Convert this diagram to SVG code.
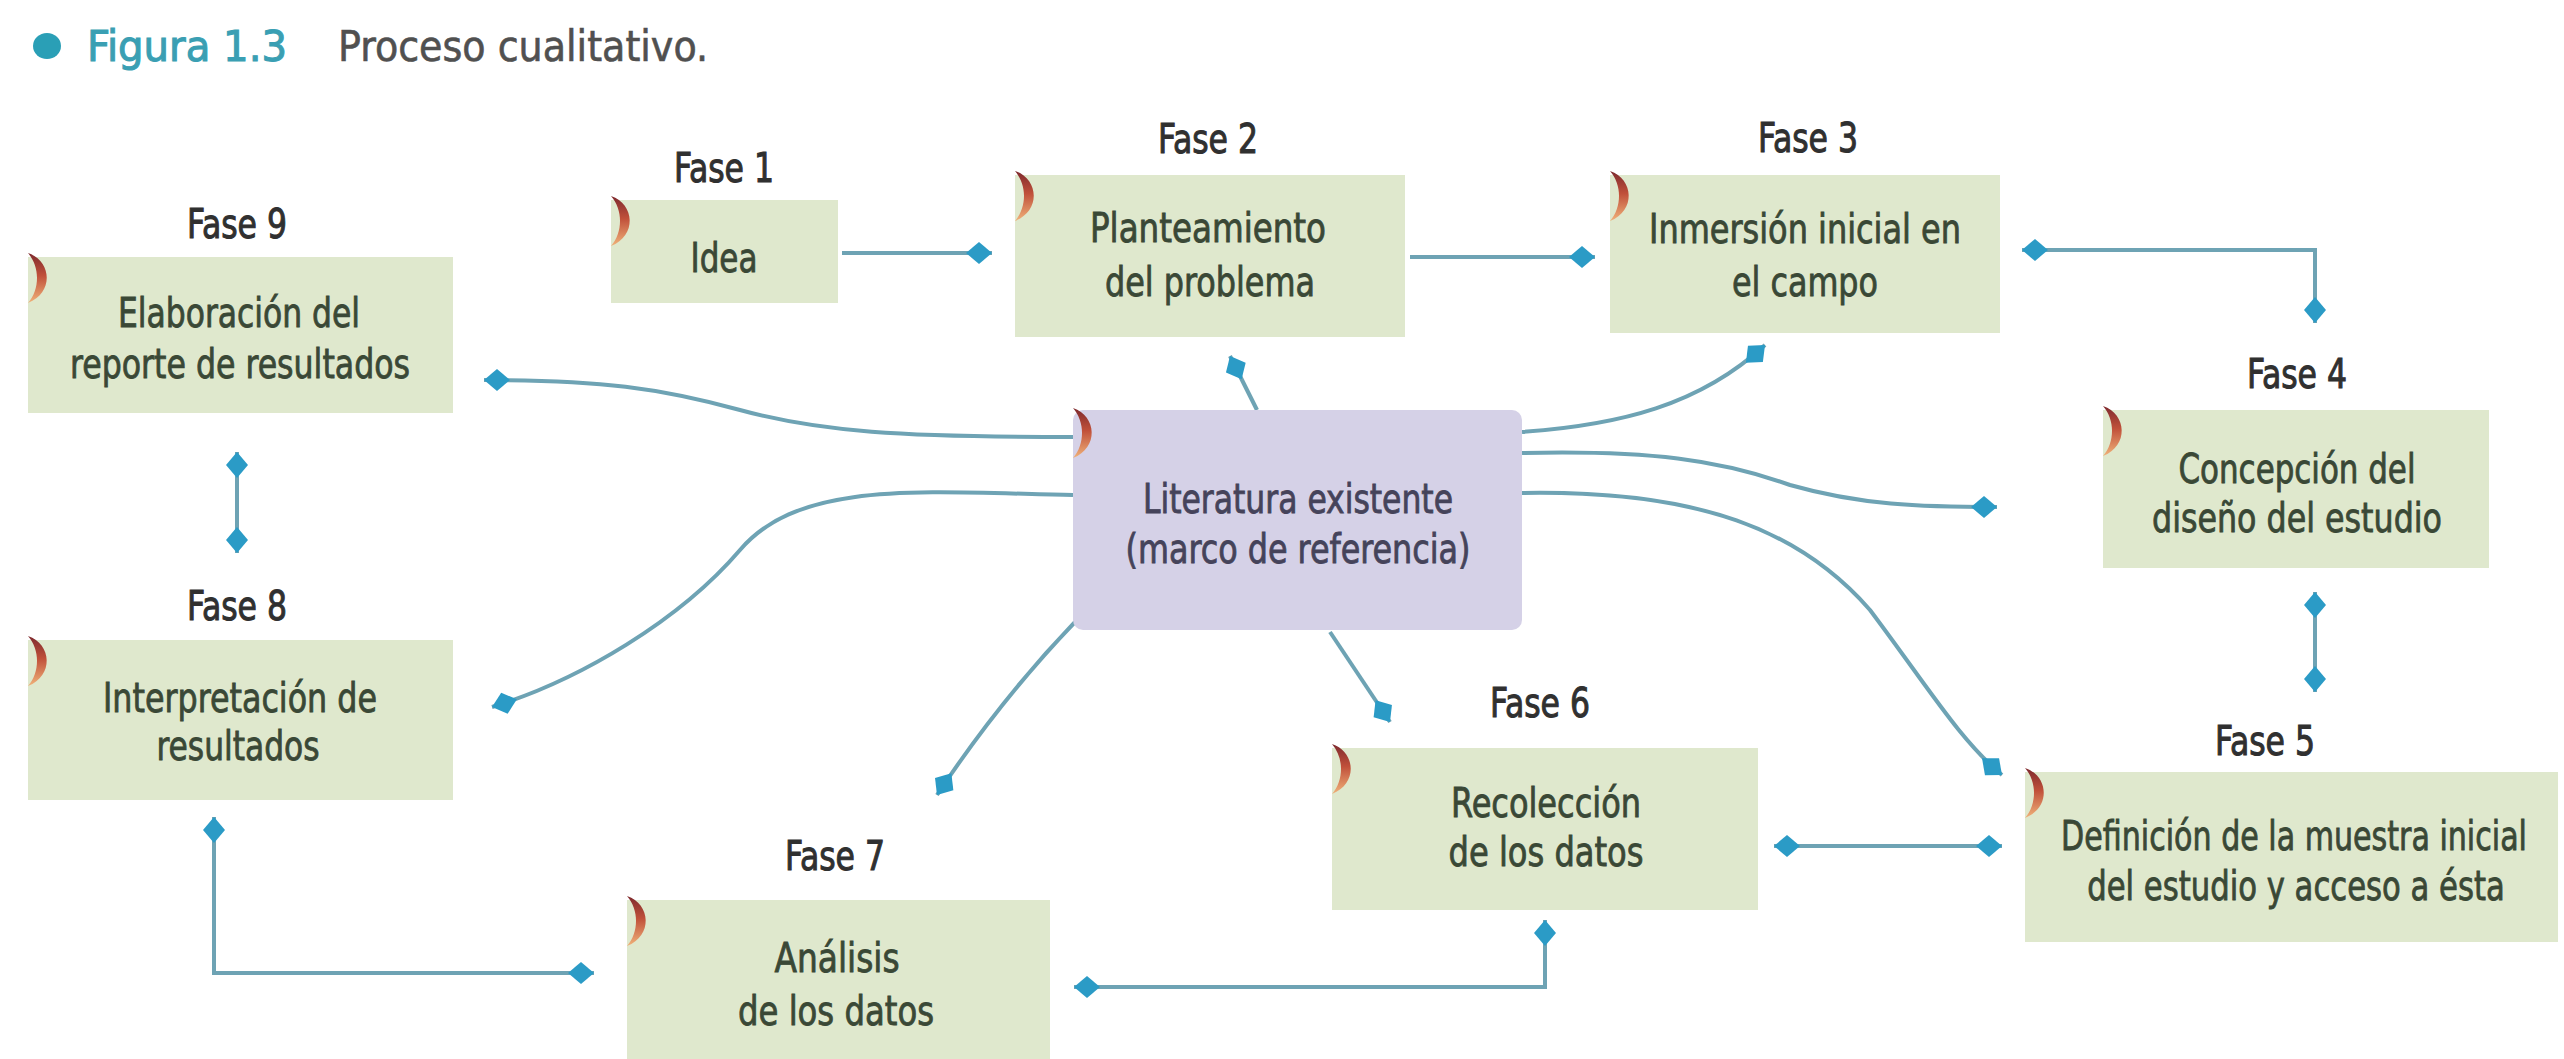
<svg xmlns="http://www.w3.org/2000/svg" width="2564" height="1059" viewBox="0 0 2564 1059">
<defs>
  <linearGradient id="cres" x1="0" y1="0" x2="0" y2="1">
    <stop offset="0" stop-color="#7e2a2e"/>
    <stop offset="0.45" stop-color="#c0503a"/>
    <stop offset="1" stop-color="#f0b27a"/>
  </linearGradient>
  <marker id="dia" viewBox="-27 -13 28 26" refX="0" refY="0" markerWidth="28" markerHeight="26" markerUnits="userSpaceOnUse" orient="auto-start-reverse">
    <path d="M0,0 L-13,-11 L-26,0 L-13,11 Z" fill="#2b9bc6"/>
  </marker>
  <path id="crescent" d="M0,0 C24,8 26,40 0,50 C12,36 12,14 0,0 Z" fill="url(#cres)"/>
</defs>
<style>
  .box { fill: #dfe8cd; }
  .central { fill: #d5d1e7; }
  .lbl { font-family: "Liberation Sans Narrow", "DejaVu Sans Condensed", "Liberation Sans", sans-serif; font-size: 41px; fill: #303030; stroke: #303030; stroke-width: 1; text-anchor: middle; }
  .txt { font-family: "Liberation Sans Narrow", "DejaVu Sans Condensed", "Liberation Sans", sans-serif; font-size: 40px; fill: #3a4836; stroke: #3a4836; stroke-width: 0.8; text-anchor: middle; }
  .ctxt { font-family: "Liberation Sans Narrow", "DejaVu Sans Condensed", "Liberation Sans", sans-serif; font-size: 40px; fill: #45435a; stroke: #45435a; stroke-width: 0.8; text-anchor: middle; }
  .con { fill: none; stroke: #6ea3b4; stroke-width: 4; }
  .end { marker-end: url(#dia); }
  .both { marker-start: url(#dia); marker-end: url(#dia); }
</style>
<rect width="2564" height="1059" fill="#ffffff"/>

<g id="title">
  <ellipse cx="47" cy="46" rx="14" ry="13" fill="#2a9fb6"/>
  <text x="87" y="61" font-family="Liberation Sans Narrow, DejaVu Sans Condensed, Liberation Sans, sans-serif" font-size="42" fill="#3a9fb3" stroke="#3a9fb3" stroke-width="1" textLength="200" lengthAdjust="spacingAndGlyphs">Figura 1.3</text>
  <text x="338" y="61" font-family="Liberation Sans Narrow, DejaVu Sans Condensed, Liberation Sans, sans-serif" font-size="42" fill="#505050" stroke="#505050" stroke-width="0.6" textLength="370" lengthAdjust="spacingAndGlyphs">Proceso cualitativo.</text>
</g>

<g id="connectors">
  <path class="con end" d="M842,253 L992,253"/>
  <path class="con end" d="M1410,257 L1595,257"/>
  <path class="con both" d="M2022,250 L2315,250 L2315,323"/>
  <path class="con both" d="M2315,592 L2315,692"/>
  <path class="con both" d="M1774,846 L2002,846"/>
  <path class="con both" d="M1074,987 L1545,987 L1545,920"/>
  <path class="con both" d="M214,817 L214,973 L594,973"/>
  <path class="con both" d="M237,452 L237,553"/>
  <path class="con end" d="M1073,437 C900,437 820,432 740,410 C660,388 600,380 484,380"/>
  <path class="con end" d="M1073,495 C920,492 800,480 740,550 C680,620 580,680 492,707"/>
  <path class="con end" d="M1075,622 Q1000,700 937,795"/>
  <path class="con end" d="M1330,632 L1390,722"/>
  <path class="con end" d="M1257,410 L1230,356"/>
  <path class="con end" d="M1522,432 C1620,425 1700,405 1765,345"/>
  <path class="con end" d="M1522,453 C1650,450 1720,460 1790,485 C1860,505 1920,507 1997,507"/>
  <path class="con end" d="M1522,493 C1700,490 1800,530 1870,610 C1930,690 1960,740 2002,775"/>
</g>

<g id="fase1">
  <text class="lbl" x="724" y="182" textLength="100" lengthAdjust="spacingAndGlyphs">Fase 1</text>
  <rect class="box" x="611" y="200" width="227" height="103"/>
  <use href="#crescent" x="611" y="196"/>
  <text class="txt" x="724" y="272" textLength="67" lengthAdjust="spacingAndGlyphs">Idea</text>
</g>

<g id="fase2">
  <text class="lbl" x="1208" y="153" textLength="100" lengthAdjust="spacingAndGlyphs">Fase 2</text>
  <rect class="box" x="1015" y="175" width="390" height="162"/>
  <use href="#crescent" x="1015" y="171"/>
  <text class="txt" x="1208" y="242" textLength="236" lengthAdjust="spacingAndGlyphs">Planteamiento</text>
  <text class="txt" x="1210" y="296" textLength="210" lengthAdjust="spacingAndGlyphs">del problema</text>
</g>

<g id="fase3">
  <text class="lbl" x="1808" y="152" textLength="100" lengthAdjust="spacingAndGlyphs">Fase 3</text>
  <rect class="box" x="1610" y="175" width="390" height="158"/>
  <use href="#crescent" x="1610" y="171"/>
  <text class="txt" x="1805" y="243" textLength="312" lengthAdjust="spacingAndGlyphs">Inmersión inicial en</text>
  <text class="txt" x="1805" y="296" textLength="146" lengthAdjust="spacingAndGlyphs">el campo</text>
</g>

<g id="fase4">
  <text class="lbl" x="2297" y="388" textLength="100" lengthAdjust="spacingAndGlyphs">Fase 4</text>
  <rect class="box" x="2103" y="410" width="386" height="158"/>
  <use href="#crescent" x="2103" y="406"/>
  <text class="txt" x="2297" y="483" textLength="237" lengthAdjust="spacingAndGlyphs">Concepción del</text>
  <text class="txt" x="2297" y="532" textLength="290" lengthAdjust="spacingAndGlyphs">diseño del estudio</text>
</g>

<g id="fase5">
  <text class="lbl" x="2265" y="755" textLength="100" lengthAdjust="spacingAndGlyphs">Fase 5</text>
  <rect class="box" x="2025" y="772" width="533" height="170"/>
  <use href="#crescent" x="2025" y="768"/>
  <text class="txt" transform="translate(2294,850) scale(0.72,1)" x="0" y="0" textLength="647" lengthAdjust="spacingAndGlyphs">Definición de la muestra inicial</text>
  <text class="txt" transform="translate(2296,900) scale(0.72,1)" x="0" y="0" textLength="580" lengthAdjust="spacingAndGlyphs">del estudio y acceso a ésta</text>
</g>

<g id="fase6">
  <text class="lbl" x="1540" y="717" textLength="100" lengthAdjust="spacingAndGlyphs">Fase 6</text>
  <rect class="box" x="1332" y="748" width="426" height="162"/>
  <use href="#crescent" x="1332" y="744"/>
  <text class="txt" x="1546" y="817" textLength="190" lengthAdjust="spacingAndGlyphs">Recolección</text>
  <text class="txt" x="1546" y="866" textLength="195" lengthAdjust="spacingAndGlyphs">de los datos</text>
</g>

<g id="fase7">
  <text class="lbl" x="835" y="870" textLength="100" lengthAdjust="spacingAndGlyphs">Fase 7</text>
  <rect class="box" x="627" y="900" width="423" height="165"/>
  <use href="#crescent" x="627" y="896"/>
  <text class="txt" x="837" y="972" textLength="125" lengthAdjust="spacingAndGlyphs">Análisis</text>
  <text class="txt" x="836" y="1025" textLength="196" lengthAdjust="spacingAndGlyphs">de los datos</text>
</g>

<g id="fase8">
  <text class="lbl" x="237" y="620" textLength="100" lengthAdjust="spacingAndGlyphs">Fase 8</text>
  <rect class="box" x="28" y="640" width="425" height="160"/>
  <use href="#crescent" x="28" y="636"/>
  <text class="txt" x="240" y="712" textLength="274" lengthAdjust="spacingAndGlyphs">Interpretación de</text>
  <text class="txt" x="238" y="760" textLength="163" lengthAdjust="spacingAndGlyphs">resultados</text>
</g>

<g id="fase9">
  <text class="lbl" x="237" y="238" textLength="100" lengthAdjust="spacingAndGlyphs">Fase 9</text>
  <rect class="box" x="28" y="257" width="425" height="156"/>
  <use href="#crescent" x="28" y="253"/>
  <text class="txt" x="239" y="327" textLength="242" lengthAdjust="spacingAndGlyphs">Elaboración del</text>
  <text class="txt" x="240" y="378" textLength="340" lengthAdjust="spacingAndGlyphs">reporte de resultados</text>
</g>

<g id="literatura">
  <rect class="central" x="1073" y="410" width="449" height="220" rx="10"/>
  <use href="#crescent" x="1073" y="408"/>
  <text class="ctxt" x="1298" y="513" textLength="310" lengthAdjust="spacingAndGlyphs">Literatura existente</text>
  <text class="ctxt" x="1298" y="563" textLength="345" lengthAdjust="spacingAndGlyphs">(marco de referencia)</text>
</g>
</svg>
